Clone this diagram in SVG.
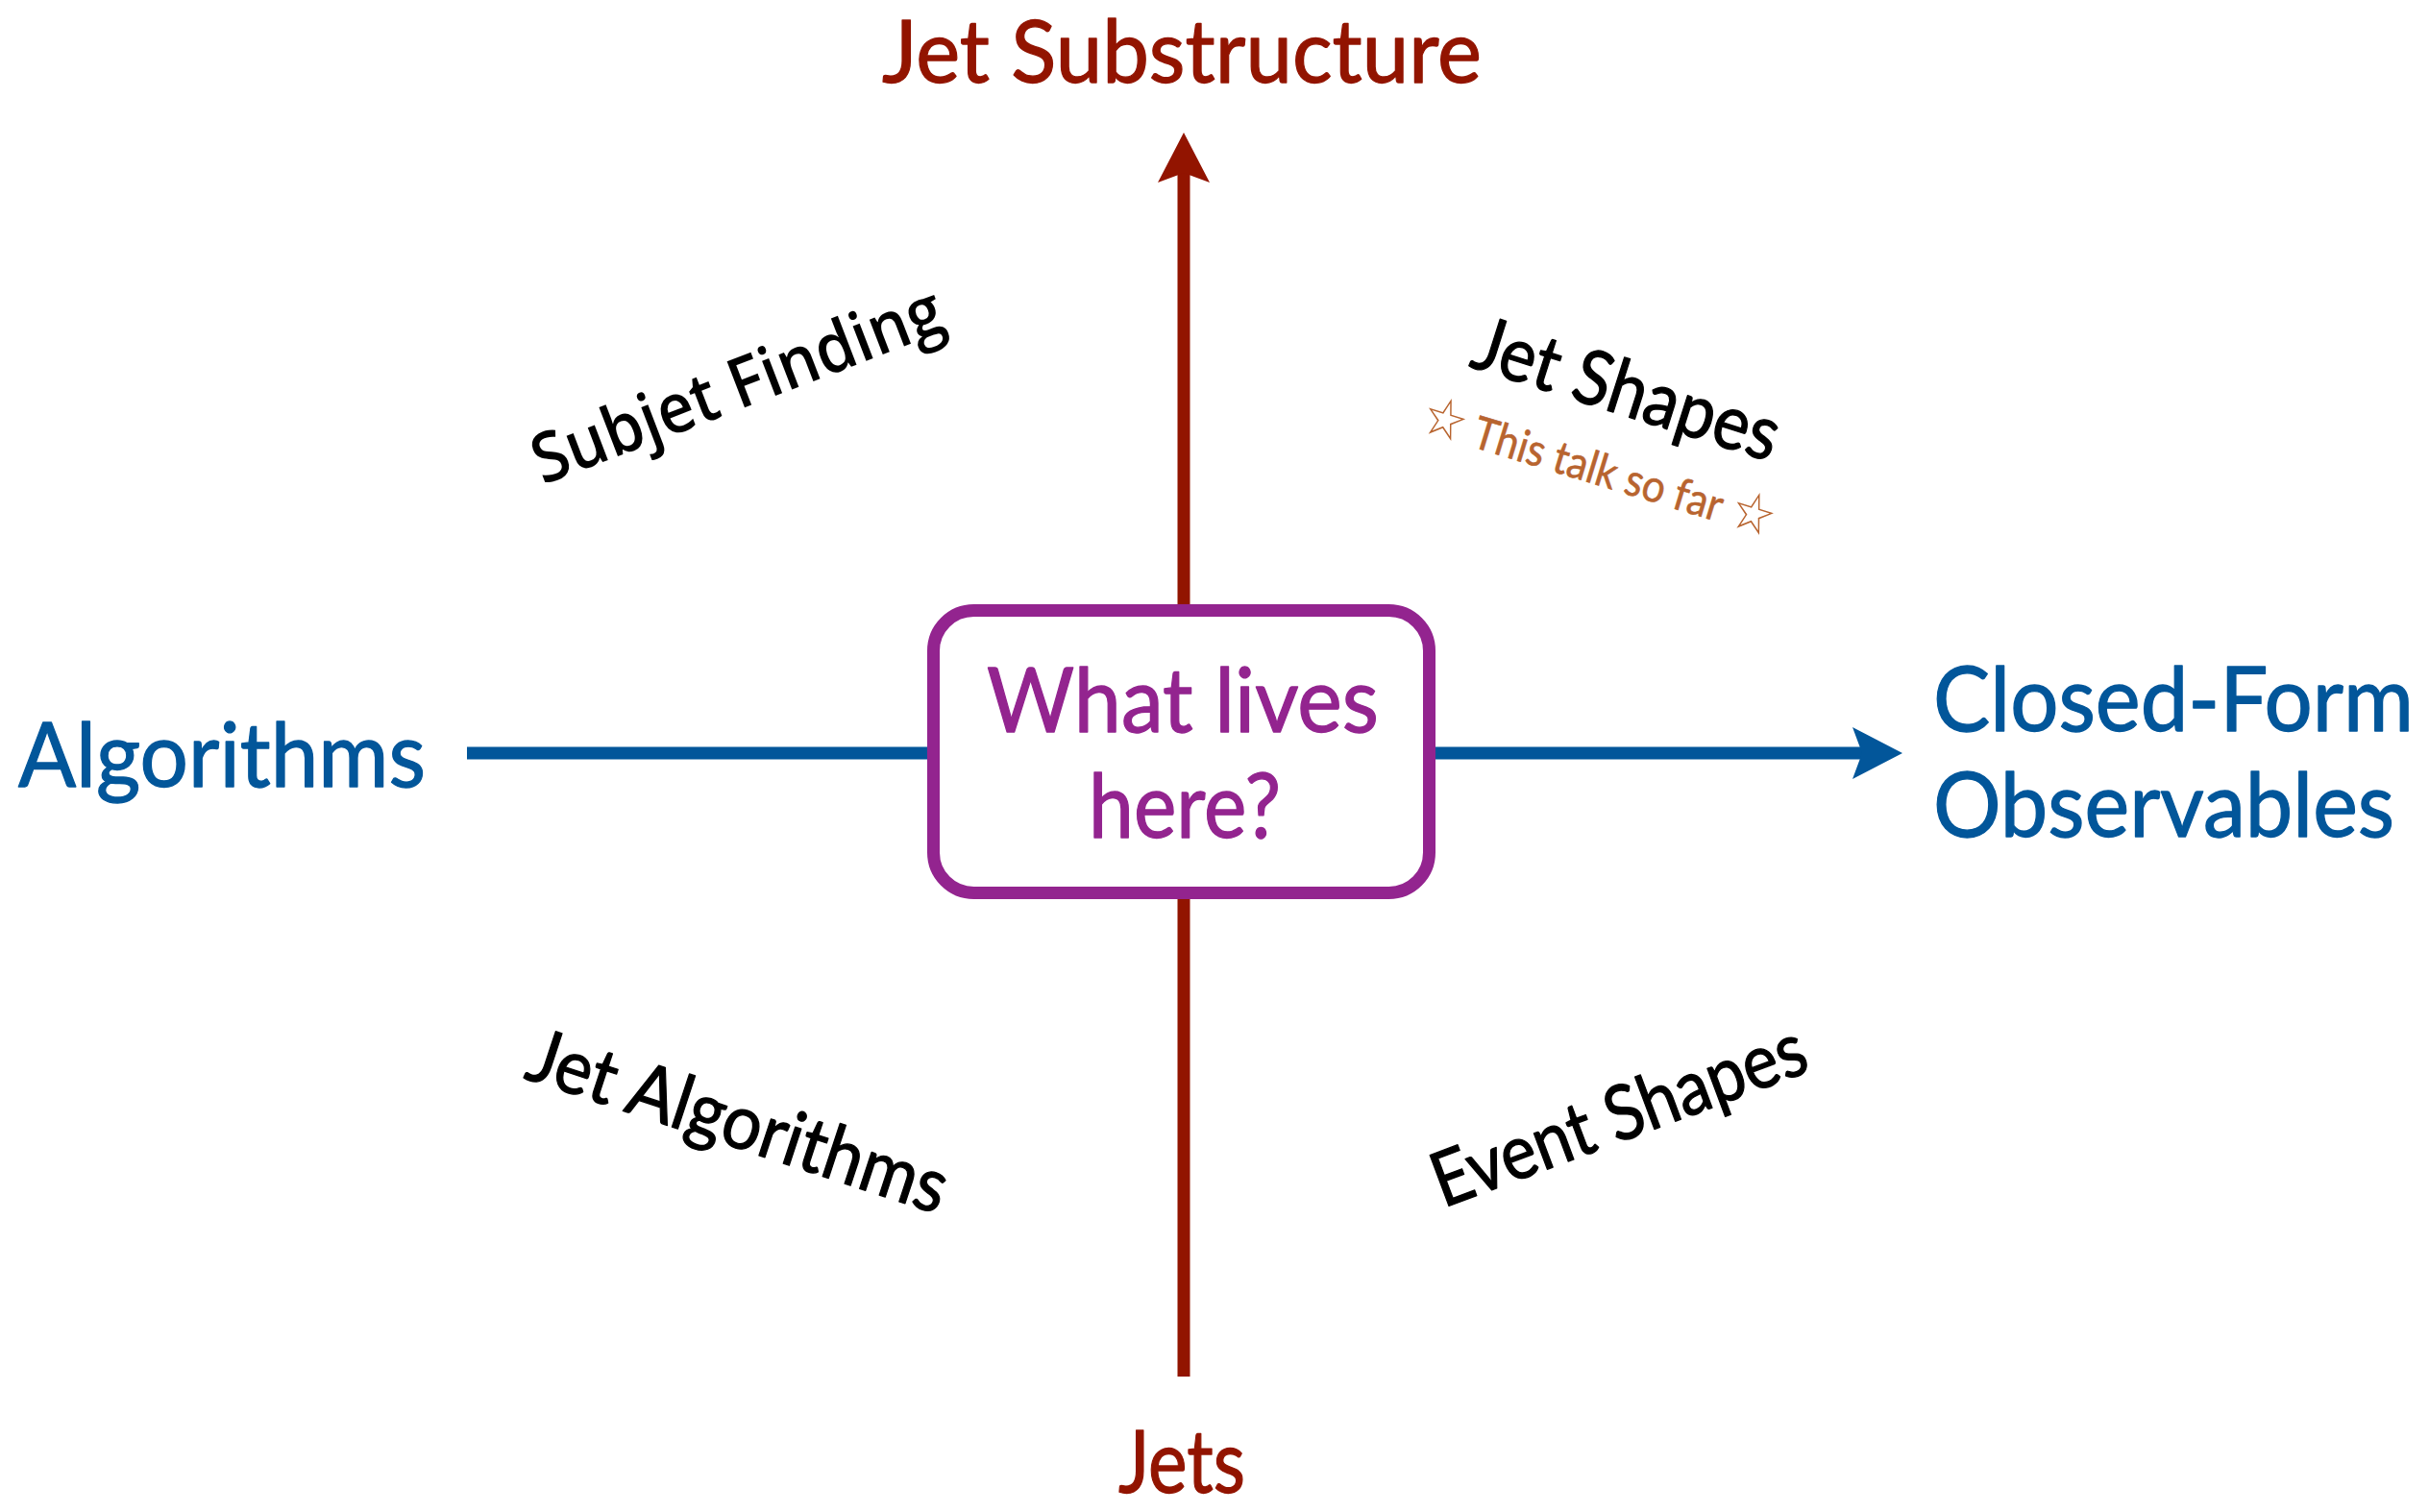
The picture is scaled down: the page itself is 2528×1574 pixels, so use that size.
<svg xmlns="http://www.w3.org/2000/svg" width="2528" height="1574" viewBox="0 0 2528 1574">
  <style>
    .gill { font-family: "Lato", "Noto Sans", "Liberation Sans", sans-serif; stroke-width: 1.3px; stroke-linejoin: round; }
    .axis-red { fill: #921400; stroke: #921400; }
    .axis-blue { fill: #02569A; stroke: #02569A; }
    .quad { fill: #000000; stroke: #000000; font-size: 79px; }
    .note { fill: #B8642F; stroke: #B8642F; stroke-width: 0.6px; font-size: 47px; }
    .star { font-family: "DejaVu Sans", sans-serif; font-size: 58px; stroke: none; }
    .big { font-size: 94px; }
    .box-text { fill: #93248F; stroke: #93248F; }
  </style>
  <defs>
    <marker id="headRed" markerUnits="userSpaceOnUse" markerWidth="60" markerHeight="60" viewBox="0 0 60 60" refX="10" refY="30" orient="auto">
      <path d="M0,3 L52,30 L0,57 L10,30 Z" fill="#921400"/>
    </marker>
    <marker id="headBlue" markerUnits="userSpaceOnUse" markerWidth="60" markerHeight="60" viewBox="0 0 60 60" refX="10" refY="30" orient="auto">
      <path d="M0,3 L52,30 L0,57 L10,30 Z" fill="#02569A"/>
    </marker>
  </defs>
  <rect width="2528" height="1574" fill="#ffffff"/>

  <!-- axes -->
  <g id="connectors">
    <line x1="1232" y1="1433" x2="1232" y2="180" stroke="#921400" stroke-width="13" marker-end="url(#headRed)"/>
    <line x1="486" y1="784" x2="1938" y2="784" stroke="#02569A" stroke-width="13" marker-end="url(#headBlue)"/>
  </g>

  <!-- central question box -->
  <g id="center-box">
    <rect x="971.5" y="635.5" width="516" height="294" rx="42" ry="42" fill="#ffffff" stroke="#93248F" stroke-width="13"/>
    <text class="gill big box-text" x="1231" y="762" text-anchor="middle" textLength="408" lengthAdjust="spacingAndGlyphs">What lives</text>
    <text class="gill big box-text" x="1233" y="872" text-anchor="middle" textLength="200" lengthAdjust="spacingAndGlyphs">here?</text>
  </g>

  <!-- axis labels -->
  <g id="label-top">
    <text class="gill axis-red" x="1230" y="86" font-size="92" text-anchor="middle" textLength="624" lengthAdjust="spacingAndGlyphs">Jet Substructure</text>
  </g>
  <g id="label-bottom">
    <text class="gill axis-red" x="1230" y="1554" font-size="92" text-anchor="middle" textLength="132" lengthAdjust="spacingAndGlyphs">Jets</text>
  </g>
  <g id="label-left">
    <text class="gill axis-blue big" x="19" y="819" textLength="424" lengthAdjust="spacingAndGlyphs">Algorithms</text>
  </g>
  <g id="label-right">
    <text class="gill axis-blue big" x="2012" y="761" textLength="500" lengthAdjust="spacingAndGlyphs">Closed-Form</text>
    <text class="gill axis-blue big" x="2012" y="871" textLength="480" lengthAdjust="spacingAndGlyphs">Observables</text>
  </g>

  <!-- quadrant labels -->
  <g id="quad-subjet-finding" transform="translate(776,424) rotate(-21)">
    <text x="0" y="0" text-anchor="middle" font-family="'Open Sans', 'Noto Sans', sans-serif" font-weight="600" font-size="72" fill="#000000" textLength="452" lengthAdjust="spacingAndGlyphs">Subjet Finding</text>
  </g>
  <g id="quad-jet-shapes" transform="translate(1685,431) rotate(17.6)">
    <text class="gill quad" x="0" y="0" text-anchor="middle" textLength="330" lengthAdjust="spacingAndGlyphs">Jet Shapes</text>
  </g>
  <g id="quad-note" transform="translate(1659,504) rotate(17)">
    <text class="gill note" x="0" y="0" text-anchor="middle" textLength="382" lengthAdjust="spacingAndGlyphs"><tspan class="star">☆</tspan> This talk so far <tspan class="star">☆</tspan></text>
  </g>
  <g id="quad-jet-algorithms" transform="translate(760,1193) rotate(18.2)">
    <text class="gill quad" x="0" y="0" text-anchor="middle" textLength="455" lengthAdjust="spacingAndGlyphs">Jet Algorithms</text>
  </g>
  <g id="quad-event-shapes" transform="translate(1694,1186) rotate(-20.5)">
    <text class="gill quad" x="0" y="0" text-anchor="middle" textLength="410" lengthAdjust="spacingAndGlyphs">Event Shapes</text>
  </g>
</svg>
